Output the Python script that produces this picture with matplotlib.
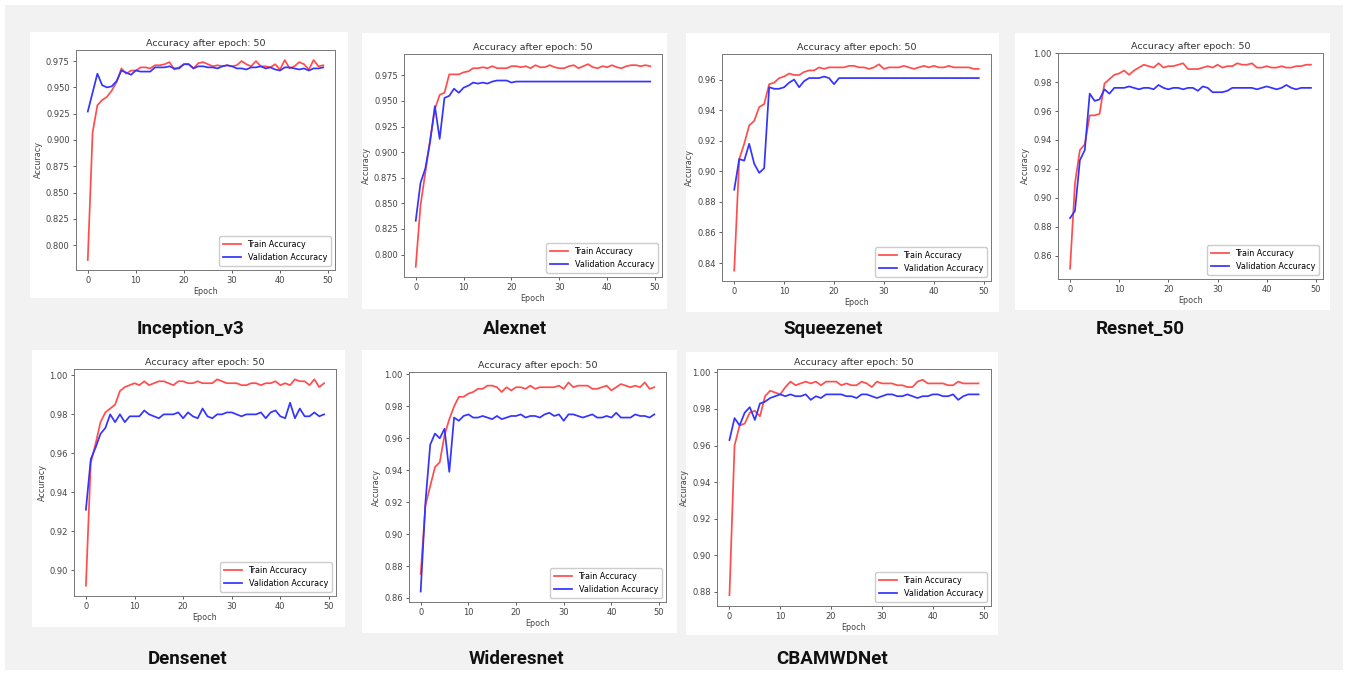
import matplotlib
matplotlib.use("Agg")
import matplotlib.pyplot as plt
from matplotlib.patches import Rectangle

W, H = 1348, 675

# model names shown under each panel
models = ["Inception_v3", "Alexnet", "Squeezenet", "Resnet_50",
          "Densenet", "Wideresnet", "CBAMWDNet"]

epochs = list(range(50))

inception_train = [0.786, 0.907, 0.933, 0.938, 0.941, 0.947, 0.955, 0.968, 0.963, 0.966,
                   0.966, 0.969, 0.969, 0.968, 0.971, 0.971, 0.972, 0.974, 0.967, 0.969,
                   0.972, 0.972, 0.968, 0.973, 0.974, 0.972, 0.970, 0.971, 0.970, 0.971,
                   0.970, 0.971, 0.975, 0.972, 0.970, 0.975, 0.970, 0.970, 0.969, 0.972,
                   0.967, 0.976, 0.968, 0.970, 0.974, 0.972, 0.967, 0.976, 0.970, 0.971]
inception_val = [0.927, 0.945, 0.963, 0.952, 0.950, 0.951, 0.956, 0.966, 0.964, 0.962,
                 0.966, 0.965, 0.965, 0.965, 0.969, 0.969, 0.969, 0.970, 0.968, 0.968,
                 0.972, 0.972, 0.968, 0.970, 0.970, 0.969, 0.969, 0.968, 0.970, 0.971,
                 0.970, 0.968, 0.968, 0.967, 0.969, 0.969, 0.970, 0.968, 0.969, 0.967,
                 0.966, 0.969, 0.969, 0.968, 0.967, 0.968, 0.966, 0.968, 0.968, 0.969]

alexnet_train = [0.788, 0.848, 0.880, 0.912, 0.942, 0.956, 0.958, 0.976, 0.976, 0.976,
                 0.978, 0.979, 0.982, 0.982, 0.983, 0.982, 0.984, 0.982, 0.982, 0.982,
                 0.984, 0.984, 0.983, 0.984, 0.982, 0.985, 0.983, 0.983, 0.985, 0.983,
                 0.982, 0.982, 0.984, 0.985, 0.982, 0.984, 0.986, 0.983, 0.982, 0.984,
                 0.983, 0.985, 0.983, 0.982, 0.984, 0.985, 0.985, 0.984, 0.985, 0.984]
alexnet_val = [0.833, 0.870, 0.884, 0.910, 0.945, 0.913, 0.953, 0.955, 0.962, 0.958,
               0.963, 0.965, 0.968, 0.967, 0.968, 0.967, 0.969, 0.970, 0.970, 0.970,
               0.968, 0.969, 0.969, 0.969, 0.969, 0.969, 0.969, 0.969, 0.969, 0.969,
               0.969, 0.969, 0.969, 0.969, 0.969, 0.969, 0.969, 0.969, 0.969, 0.969,
               0.969, 0.969, 0.969, 0.969, 0.969, 0.969, 0.969, 0.969, 0.969, 0.969]

squeeze_train = [0.835, 0.908, 0.918, 0.930, 0.933, 0.942, 0.944, 0.957, 0.958, 0.961,
                 0.962, 0.964, 0.963, 0.963, 0.965, 0.966, 0.966, 0.968, 0.967, 0.968,
                 0.968, 0.968, 0.968, 0.969, 0.969, 0.968, 0.968, 0.967, 0.968, 0.970,
                 0.967, 0.968, 0.968, 0.968, 0.969, 0.968, 0.967, 0.968, 0.969, 0.968,
                 0.969, 0.968, 0.968, 0.969, 0.968, 0.968, 0.968, 0.968, 0.967, 0.967]
squeeze_val = [0.888, 0.908, 0.907, 0.918, 0.905, 0.899, 0.902, 0.955, 0.954, 0.954,
               0.955, 0.958, 0.960, 0.955, 0.959, 0.961, 0.961, 0.961, 0.962, 0.961,
               0.957, 0.961, 0.961, 0.961, 0.961, 0.961, 0.961, 0.961, 0.961, 0.961,
               0.961, 0.961, 0.961, 0.961, 0.961, 0.961, 0.961, 0.961, 0.961, 0.961,
               0.961, 0.961, 0.961, 0.961, 0.961, 0.961, 0.961, 0.961, 0.961, 0.961]

resnet_train = [0.851, 0.910, 0.933, 0.937, 0.957, 0.957, 0.958, 0.979, 0.982, 0.985,
                0.986, 0.988, 0.985, 0.988, 0.990, 0.992, 0.991, 0.990, 0.993, 0.990,
                0.991, 0.991, 0.992, 0.993, 0.989, 0.989, 0.989, 0.990, 0.991, 0.990,
                0.992, 0.990, 0.991, 0.991, 0.993, 0.992, 0.992, 0.993, 0.990, 0.990,
                0.991, 0.990, 0.990, 0.991, 0.990, 0.990, 0.991, 0.991, 0.992, 0.992]
resnet_val = [0.886, 0.891, 0.926, 0.933, 0.972, 0.967, 0.968, 0.975, 0.972, 0.976,
              0.976, 0.976, 0.977, 0.976, 0.975, 0.976, 0.976, 0.975, 0.978, 0.976,
              0.975, 0.976, 0.976, 0.975, 0.976, 0.976, 0.974, 0.977, 0.976, 0.973,
              0.973, 0.973, 0.974, 0.976, 0.976, 0.976, 0.976, 0.976, 0.975, 0.976,
              0.977, 0.976, 0.975, 0.976, 0.978, 0.976, 0.975, 0.976, 0.976, 0.976]

densenet_train = [0.892, 0.955, 0.965, 0.976, 0.981, 0.983, 0.985, 0.992, 0.994, 0.995,
                  0.996, 0.995, 0.997, 0.995, 0.996, 0.997, 0.997, 0.996, 0.995, 0.997,
                  0.997, 0.996, 0.996, 0.997, 0.996, 0.996, 0.996, 0.998, 0.997, 0.996,
                  0.996, 0.996, 0.995, 0.995, 0.996, 0.996, 0.995, 0.996, 0.996, 0.997,
                  0.995, 0.996, 0.995, 0.998, 0.997, 0.997, 0.995, 0.998, 0.994, 0.996]
densenet_val = [0.931, 0.957, 0.963, 0.970, 0.973, 0.980, 0.976, 0.980, 0.976, 0.979,
                0.979, 0.979, 0.982, 0.980, 0.979, 0.978, 0.980, 0.980, 0.980, 0.981,
                0.978, 0.981, 0.979, 0.978, 0.983, 0.979, 0.978, 0.980, 0.980, 0.981,
                0.981, 0.980, 0.979, 0.980, 0.980, 0.980, 0.981, 0.978, 0.981, 0.982,
                0.979, 0.978, 0.986, 0.978, 0.983, 0.979, 0.979, 0.981, 0.979, 0.980]

wide_train = [0.875, 0.918, 0.930, 0.942, 0.945, 0.962, 0.972, 0.980, 0.986, 0.986,
              0.988, 0.989, 0.991, 0.991, 0.993, 0.993, 0.992, 0.989, 0.992, 0.990,
              0.992, 0.992, 0.991, 0.993, 0.991, 0.992, 0.992, 0.992, 0.992, 0.993,
              0.991, 0.995, 0.992, 0.993, 0.993, 0.993, 0.991, 0.991, 0.992, 0.993,
              0.990, 0.992, 0.994, 0.993, 0.992, 0.993, 0.992, 0.995, 0.991, 0.992]
wide_val = [0.864, 0.920, 0.956, 0.963, 0.960, 0.966, 0.939, 0.973, 0.971, 0.974,
            0.975, 0.973, 0.973, 0.974, 0.973, 0.972, 0.974, 0.972, 0.973, 0.974,
            0.974, 0.975, 0.973, 0.974, 0.974, 0.973, 0.975, 0.976, 0.974, 0.975,
            0.971, 0.975, 0.975, 0.974, 0.973, 0.974, 0.975, 0.973, 0.973, 0.974,
            0.973, 0.976, 0.973, 0.973, 0.973, 0.975, 0.974, 0.974, 0.973, 0.975]

cbam_train = [0.878, 0.960, 0.971, 0.972, 0.978, 0.979, 0.976, 0.987, 0.990, 0.989,
              0.988, 0.992, 0.995, 0.993, 0.994, 0.995, 0.994, 0.995, 0.993, 0.995,
              0.995, 0.995, 0.993, 0.994, 0.993, 0.993, 0.995, 0.994, 0.992, 0.995,
              0.994, 0.994, 0.994, 0.993, 0.993, 0.992, 0.992, 0.995, 0.996, 0.994,
              0.994, 0.994, 0.994, 0.993, 0.993, 0.995, 0.994, 0.994, 0.994, 0.994]
cbam_val = [0.963, 0.975, 0.971, 0.978, 0.981, 0.974, 0.983, 0.984, 0.986, 0.987,
            0.988, 0.987, 0.988, 0.987, 0.987, 0.988, 0.985, 0.987, 0.986, 0.988,
            0.988, 0.988, 0.988, 0.987, 0.987, 0.986, 0.988, 0.988, 0.987, 0.986,
            0.987, 0.988, 0.988, 0.987, 0.987, 0.988, 0.987, 0.986, 0.987, 0.987,
            0.988, 0.988, 0.987, 0.987, 0.988, 0.985, 0.987, 0.988, 0.988, 0.988]

train_series = [inception_train, alexnet_train, squeeze_train, resnet_train,
                densenet_train, wide_train, cbam_train]
val_series = [inception_val, alexnet_val, squeeze_val, resnet_val,
              densenet_val, wide_val, cbam_val]

# layout in pixels: white card, axes box, caption centre
cards = [(30, 32, 348, 298), (362, 33, 667, 309), (686, 33, 999, 312), (1015, 33, 1330, 310),
         (32, 350, 345, 627), (362, 350, 677, 633), (686, 352, 998, 635)]
axes_px = [(76, 50, 335, 270), (404, 54, 662, 277), (722, 54, 991, 281), (1058, 53, 1323, 279),
           (74, 369, 336, 596), (409, 372, 666, 602), (717, 369, 991, 606)]
captions = [(190, 329), (515, 329), (833, 329), (1140, 329),
            (188, 659), (516, 659), (832, 659)]


def frac(x0, y0, x1, y1):
    return [x0 / W, 1 - y1 / H, (x1 - x0) / W, (y1 - y0) / H]


fig = plt.figure(figsize=(W / 100, H / 100), dpi=100, facecolor="white")

# light grey backdrop
fig.add_artist(Rectangle((5 / W, 1 - 670 / H), 1338 / W, 665 / H,
                         transform=fig.transFigure, facecolor="#f2f2f2",
                         edgecolor="none", zorder=-2))

for i in range(len(models)):
    x, y, w, h = frac(*cards[i])
    fig.add_artist(Rectangle((x, y), w, h, transform=fig.transFigure,
                             facecolor="white", edgecolor="none", zorder=-1))
    ax = fig.add_axes(frac(*axes_px[i]))
    ax.plot(epochs, train_series[i], color="#ff4d4d", lw=1.25, label="Train Accuracy")
    ax.plot(epochs, val_series[i], color="#3434ff", lw=1.25, label="Validation Accuracy")
    ax.set_title("Accuracy after epoch: 50", fontsize=6.8, color="#333333", pad=3)
    ax.set_xlabel("Epoch", fontsize=5.8, color="#444444", labelpad=1)
    ax.set_ylabel("Accuracy", fontsize=5.8, color="#444444", labelpad=2)
    ax.set_xticks([0, 10, 20, 30, 40, 50])
    ax.tick_params(labelsize=6, colors="#444444", length=2.5, width=0.6, pad=2)
    for s in ax.spines.values():
        s.set_color("#777777")
        s.set_linewidth(0.7)
    ax.legend(loc="lower right", fontsize=5.8, framealpha=1, edgecolor="#cccccc",
              handlelength=2.2, borderpad=0.5)
    fig.text(captions[i][0] / W, 1 - captions[i][1] / H, models[i],
             ha="center", va="center", fontsize=13.5, fontweight="bold",
             family=["Liberation Sans Narrow", "Roboto", "DejaVu Sans"], color="#111111")

fig.savefig("out.png", dpi=100, facecolor="white")
